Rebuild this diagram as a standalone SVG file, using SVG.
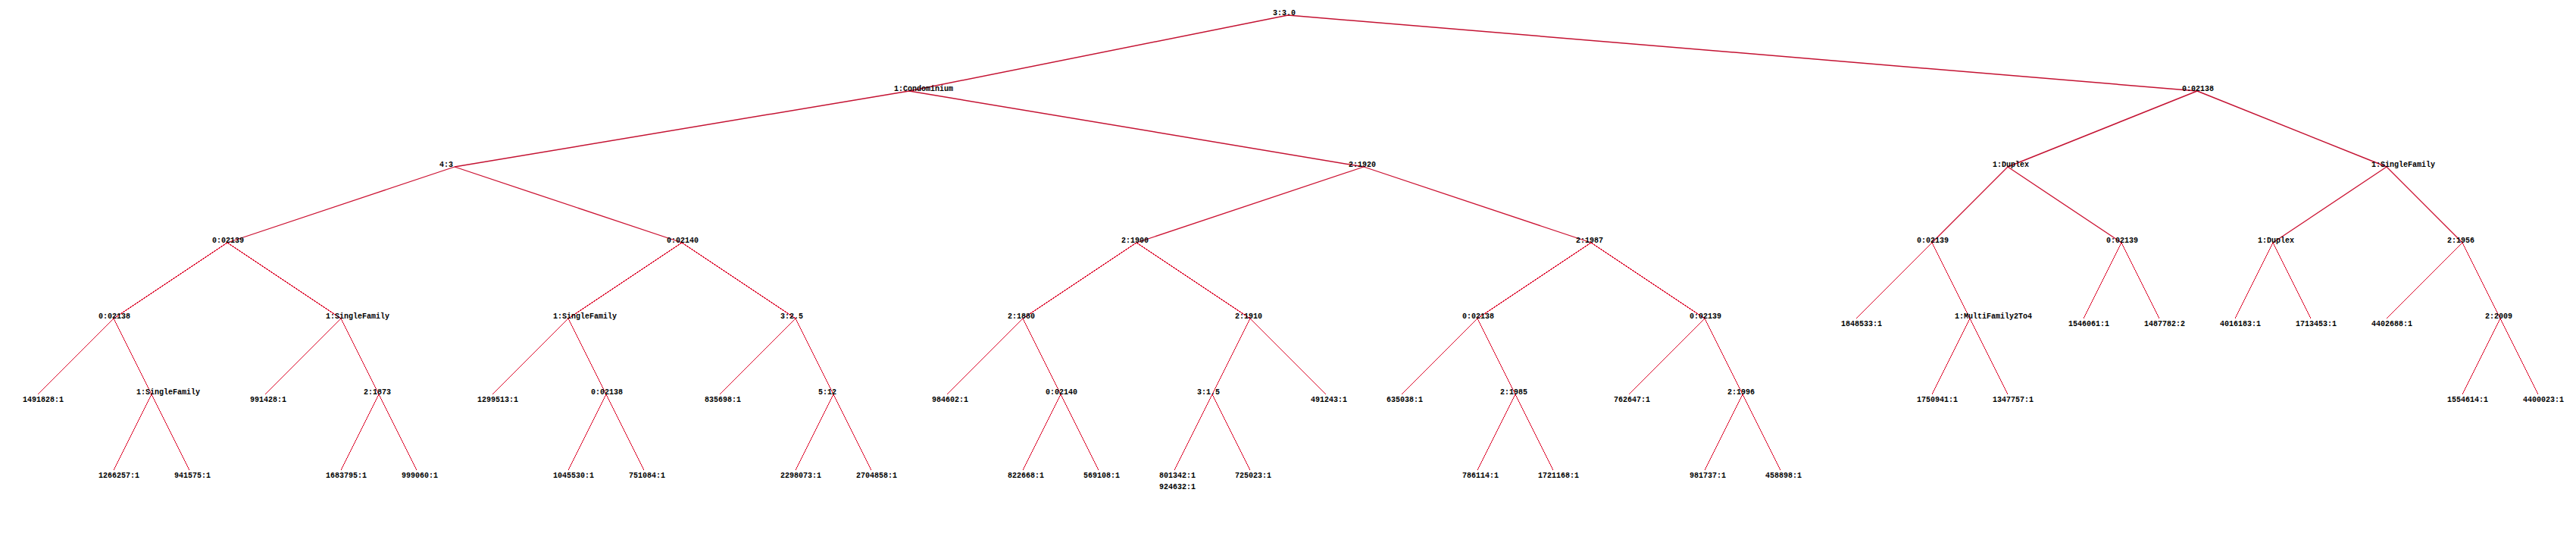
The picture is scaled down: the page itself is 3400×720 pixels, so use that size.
<svg xmlns="http://www.w3.org/2000/svg" width="3400" height="720" viewBox="0 0 3400 720">
<style>
.e{stroke:#dd1030;stroke-width:1;fill:none;shape-rendering:crispEdges}
.t{stroke:#c41232;stroke-width:1.5;shape-rendering:auto}
.m{stroke:#cc1232;stroke-width:1.3;shape-rendering:auto}
text{font-family:"Liberation Mono","DejaVu Sans Mono",monospace;font-size:10px;font-weight:bold;fill:#000}
</style>
<rect width="3400" height="720" fill="#fff"/>
<g id="connectors">
<path class="e t" d="M1700 20L1200 120M1700 20L2900 120"/>
<path class="e t" d="M1200 120L600 220M1200 120L1800 220M2900 120L2650 220M2900 120L3150 220"/>
<path class="e m" d="M600 220L300 320M600 220L900 320M1800 220L1500 320M1800 220L2100 320M2650 220L2550 320M2650 220L2800 320M3150 220L3000 320M3150 220L3250 320"/>
<path class="e" d="M300 320L150 420M300 320L450 420M900 320L750 420M900 320L1050 420M1500 320L1350 420M1500 320L1650 420M2100 320L1950 420M2100 320L2250 420M2550 320L2450 420M2550 320L2600 420M2800 320L2750 420M2800 320L2850 420M3000 320L2950 420M3000 320L3050 420M3250 320L3150 420M3250 320L3300 420"/>
<path class="e" d="M150 420L50 520M150 420L200 520M450 420L350 520M450 420L500 520M750 420L650 520M750 420L800 520M1050 420L950 520M1050 420L1100 520M1350 420L1250 520M1350 420L1400 520M1650 420L1600 520M1650 420L1750 520M1950 420L1850 520M1950 420L2000 520M2250 420L2150 520M2250 420L2300 520M2600 420L2550 520M2600 420L2650 520M3300 420L3250 520M3300 420L3350 520"/>
<path class="e" d="M200 520L150 620M200 520L250 620M500 520L450 620M500 520L550 620M800 520L750 620M800 520L850 620M1100 520L1050 620M1100 520L1150 620M1400 520L1350 620M1400 520L1450 620M1600 520L1550 620M1600 520L1650 620M2000 520L1950 620M2000 520L2050 620M2300 520L2250 620M2300 520L2350 620"/>
</g>
<g id="n0"><text x="1680" y="20">3:3.0</text></g>
<g id="n1"><text x="1180" y="120">1:Condominium</text></g>
<g id="n2"><text x="2880" y="120">0:02138</text></g>
<g id="n3"><text x="580" y="220">4:3</text></g>
<g id="n4"><text x="1780" y="220">2:1920</text></g>
<g id="n5"><text x="2630" y="220">1:Duplex</text></g>
<g id="n6"><text x="3130" y="220">1:SingleFamily</text></g>
<g id="n7"><text x="280" y="320">0:02139</text></g>
<g id="n8"><text x="880" y="320">0:02140</text></g>
<g id="n9"><text x="1480" y="320">2:1900</text></g>
<g id="n10"><text x="2080" y="320">2:1987</text></g>
<g id="n11"><text x="2530" y="320">0:02139</text></g>
<g id="n12"><text x="2780" y="320">0:02139</text></g>
<g id="n13"><text x="2980" y="320">1:Duplex</text></g>
<g id="n14"><text x="3230" y="320">2:1956</text></g>
<g id="n15"><text x="130" y="420">0:02138</text></g>
<g id="n16"><text x="430" y="420">1:SingleFamily</text></g>
<g id="n17"><text x="730" y="420">1:SingleFamily</text></g>
<g id="n18"><text x="1030" y="420">3:2.5</text></g>
<g id="n19"><text x="1330" y="420">2:1880</text></g>
<g id="n20"><text x="1630" y="420">2:1910</text></g>
<g id="n21"><text x="1930" y="420">0:02138</text></g>
<g id="n22"><text x="2230" y="420">0:02139</text></g>
<g id="n23"><text x="2430" y="430">1848533:1</text></g>
<g id="n24"><text x="2580" y="420">1:MultiFamily2To4</text></g>
<g id="n25"><text x="2730" y="430">1546061:1</text></g>
<g id="n26"><text x="2830" y="430">1487782:2</text></g>
<g id="n27"><text x="2930" y="430">4016183:1</text></g>
<g id="n28"><text x="3030" y="430">1713453:1</text></g>
<g id="n29"><text x="3130" y="430">4402688:1</text></g>
<g id="n30"><text x="3280" y="420">2:2009</text></g>
<g id="n31"><text x="30" y="530">1491828:1</text></g>
<g id="n32"><text x="180" y="520">1:SingleFamily</text></g>
<g id="n33"><text x="330" y="530">991428:1</text></g>
<g id="n34"><text x="480" y="520">2:1873</text></g>
<g id="n35"><text x="630" y="530">1299513:1</text></g>
<g id="n36"><text x="780" y="520">0:02138</text></g>
<g id="n37"><text x="930" y="530">835698:1</text></g>
<g id="n38"><text x="1080" y="520">5:12</text></g>
<g id="n39"><text x="1230" y="530">984602:1</text></g>
<g id="n40"><text x="1380" y="520">0:02140</text></g>
<g id="n41"><text x="1580" y="520">3:1.5</text></g>
<g id="n42"><text x="1730" y="530">491243:1</text></g>
<g id="n43"><text x="1830" y="530">635038:1</text></g>
<g id="n44"><text x="1980" y="520">2:1985</text></g>
<g id="n45"><text x="2130" y="530">762647:1</text></g>
<g id="n46"><text x="2280" y="520">2:1996</text></g>
<g id="n47"><text x="2530" y="530">1750941:1</text></g>
<g id="n48"><text x="2630" y="530">1347757:1</text></g>
<g id="n49"><text x="3230" y="530">1554614:1</text></g>
<g id="n50"><text x="3330" y="530">4400023:1</text></g>
<g id="n51"><text x="130" y="630">1266257:1</text></g>
<g id="n52"><text x="230" y="630">941575:1</text></g>
<g id="n53"><text x="430" y="630">1683795:1</text></g>
<g id="n54"><text x="530" y="630">999060:1</text></g>
<g id="n55"><text x="730" y="630">1045530:1</text></g>
<g id="n56"><text x="830" y="630">751084:1</text></g>
<g id="n57"><text x="1030" y="630">2298073:1</text></g>
<g id="n58"><text x="1130" y="630">2704858:1</text></g>
<g id="n59"><text x="1330" y="630">822668:1</text></g>
<g id="n60"><text x="1430" y="630">569108:1</text></g>
<g id="n61"><text x="1530" y="630">801342:1</text><text x="1530" y="645">924632:1</text></g>
<g id="n62"><text x="1630" y="630">725023:1</text></g>
<g id="n63"><text x="1930" y="630">786114:1</text></g>
<g id="n64"><text x="2030" y="630">1721168:1</text></g>
<g id="n65"><text x="2230" y="630">981737:1</text></g>
<g id="n66"><text x="2330" y="630">458898:1</text></g>
</svg>
